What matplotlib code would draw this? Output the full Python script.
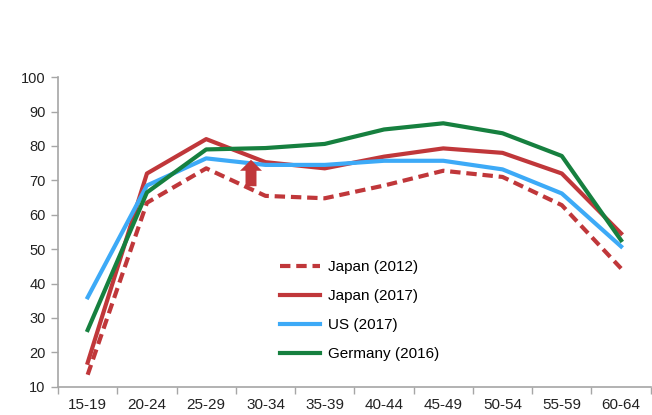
import matplotlib
matplotlib.use("Agg")
import matplotlib.pyplot as plt
from matplotlib.patches import FancyArrow

plt.rcParams["font.family"] = ["Liberation Sans", "DejaVu Sans"]

age_groups = ["15-19", "20-24", "25-29", "30-34", "35-39", "40-44", "45-49", "50-54", "55-59", "60-64"]
japan_2012 = [13.5, 63.5, 73.5, 65.5, 64.8, 68.5, 72.8, 71.0, 62.8, 44.4]
japan_2017 = [17.0, 72.0, 82.0, 75.3, 73.5, 76.9, 79.3, 78.0, 72.0, 54.6]
us_2017 = [36.0, 68.5, 76.4, 74.5, 74.5, 75.7, 75.7, 73.2, 66.2, 50.8]
germany_2016 = [26.5, 66.5, 79.0, 79.4, 80.6, 84.8, 86.6, 83.7, 77.1, 52.6]

red = "#C0373A"
blue = "#3DAAF7"
green = "#16803F"
grey = "#A6A6A6"

fig = plt.figure(figsize=(6.52, 4.15), dpi=100)
ax = fig.add_axes([0.089, 0.068, 0.909, 0.746])

x = range(len(age_groups))
ax.plot(x, japan_2012, color=red, lw=3, dashes=(2.5, 1.4), label="Japan (2012)")
ax.plot(x, japan_2017, color=red, lw=3, label="Japan (2017)")
ax.plot(x, us_2017, color=blue, lw=3, label="US (2017)")
ax.plot(x, germany_2016, color=green, lw=3, label="Germany (2016)")

# upward arrow showing the rise for Japan
ax.add_patch(FancyArrow(2.756, 68.3, 0, 7.7, width=0.185, head_width=0.37,
                        head_length=3.2, length_includes_head=True,
                        color=red, lw=0, zorder=5))

ax.set_xlim(-0.5, len(age_groups) - 0.5)
ax.set_ylim(10, 100)
ax.set_yticks(range(10, 101, 10))
ax.set_xticks(list(x))
ax.set_xticklabels(age_groups)
ax.set_xticks([i - 0.5 for i in range(len(age_groups) + 1)], minor=True)
ax.tick_params(axis="x", which="major", length=0, pad=8, labelsize=11, colors="#222222")
ax.tick_params(axis="x", which="minor", length=5, width=1, color=grey)
ax.tick_params(axis="y", length=5, width=1, color=grey, labelsize=10.5, labelcolor="#222222", pad=4)

for s in ["top", "right"]:
    ax.spines[s].set_visible(False)
for s in ["left", "bottom"]:
    ax.spines[s].set_color(grey)
    ax.spines[s].set_linewidth(1.2)

ax.legend(loc="upper left", bbox_to_anchor=(0.43, 0.373), bbox_transform=fig.transFigure,
          frameon=False, fontsize=11, handlelength=2.6, handletextpad=0.5,
          labelspacing=0.98, borderaxespad=0, borderpad=0)

fig.savefig("out.png", dpi=100)
